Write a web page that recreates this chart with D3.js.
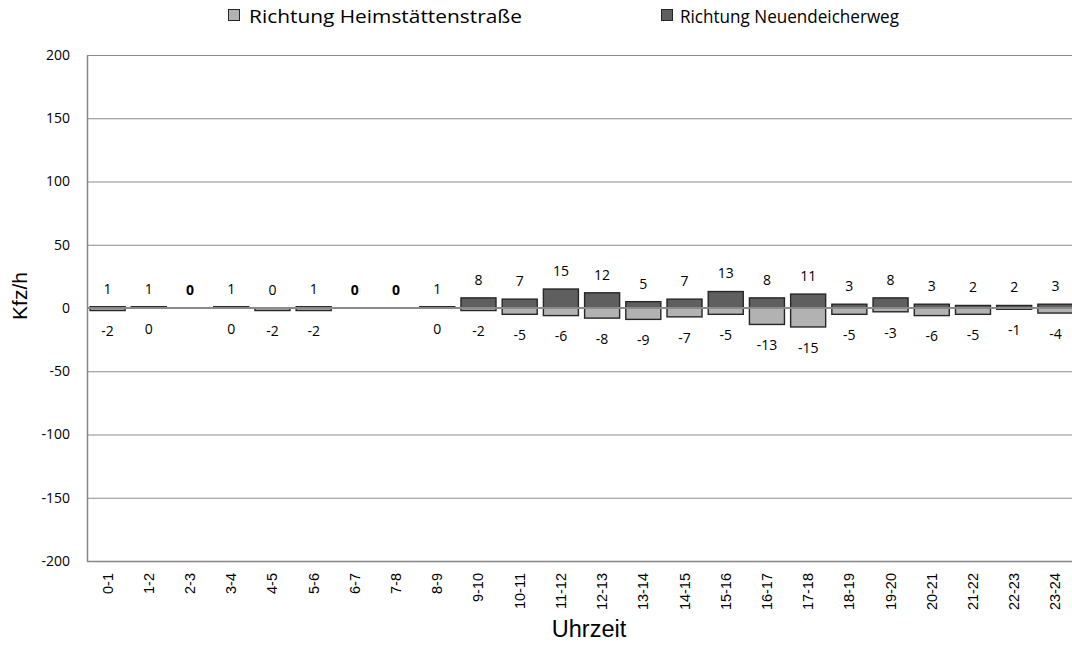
<!DOCTYPE html>
<html><head><meta charset="utf-8">
<script src="https://cdn.jsdelivr.net/npm/d3@7"></script>
<style>body{margin:0;background:#fff}svg{display:block}</style>
</head><body>
<svg id="c" width="1072" height="645"></svg>
<script>
const hours = ["0-1","1-2","2-3","3-4","4-5","5-6","6-7","7-8","8-9","9-10","10-11","11-12","12-13","13-14","14-15","15-16","16-17","17-18","18-19","19-20","20-21","21-22","22-23","23-24"];
const neuendeicherweg = [1,1,0,1,0,1,0,0,1,8,7,15,12,5,7,13,8,11,3,8,3,2,2,3];
const heimstaetten = [-2,0,null,0,-2,-2,null,null,0,-2,-5,-6,-8,-9,-7,-5,-13,-15,-5,-3,-6,-5,-1,-4];
const yTicks = [200,150,100,50,0,-50,-100,-150,-200];
const seriesNames = ["Richtung Heimstättenstraße","Richtung Neuendeicherweg"];

const svg = d3.select("#c");
const m = {l:87, t:55, r:1076, b:561};
const x = d3.scaleBand().domain(hours).range([m.l, m.r]).paddingInner(0.15).paddingOuter(0.075);
const y = d3.scaleLinear().domain([-200,200]).range([m.b, m.t]);
const labelFont = "'Open Sans', sans-serif";
const axisFont = "'Liberation Sans', Arial, sans-serif";

// gridlines
svg.append("g").selectAll("line").data(yTicks).join("line")
  .attr("x1", m.l).attr("x2", 1072).attr("y1", d=>y(d)+0.5).attr("y2", d=>y(d)+0.5)
  .attr("stroke", "#8c8c8c").attr("stroke-width", 1);

// y axis
const ya = svg.append("g").attr("transform", `translate(${m.l},0)`)
  .call(d3.axisLeft(y).tickValues(yTicks).tickSize(0).tickPadding(17).tickFormat(d=>String(d)));
ya.select(".domain").attr("stroke", "#868686").attr("stroke-width", 1.5);
ya.selectAll("text").attr("font-family", labelFont).attr("font-size", 14).attr("fill", "#000");

// bars
const dark = "#5f5f5f", light = "#b2b2b2", edge = "#262626";
const bw = x.bandwidth();
svg.append("g").selectAll("rect").data(hours.map((h,i)=>({h, v:heimstaetten[i]})).filter(d=>d.v!==null))
  .join("rect").attr("x", d=>x(d.h)).attr("width", bw)
  .attr("y", y(0)).attr("height", d=>y(d.v)-y(0))
  .attr("fill", light).attr("stroke", edge).attr("stroke-width", 1.4);
svg.append("g").selectAll("rect").data(hours.map((h,i)=>({h, v:neuendeicherweg[i], empty: heimstaetten[i]===null})).filter(d=>!d.empty))
  .join("rect").attr("x", d=>x(d.h)).attr("width", bw)
  .attr("y", d=>y(d.v)).attr("height", d=>y(0)-y(d.v))
  .attr("fill", dark).attr("stroke", edge).attr("stroke-width", 1.4);

// zero line
svg.append("line").attr("x1", m.l).attr("x2", 1072).attr("y1", y(0)).attr("y2", y(0))
  .attr("stroke", "#8a8a8a").attr("stroke-width", 2);

// bottom axis line
svg.append("line").attr("x1", m.l).attr("x2", 1072).attr("y1", m.b+0.5).attr("y2", m.b+0.5)
  .attr("stroke", "#868686").attr("stroke-width", 1.5);

// data labels
svg.append("g").selectAll("text").data(hours.map((h,i)=>({h, v:neuendeicherweg[i], bold: heimstaetten[i]===null})))
  .join("text").attr("x", d=>x(d.h)+bw/2).attr("y", d=>y(d.v)-18).attr("dy","0.35em")
  .attr("text-anchor","middle").attr("font-family", labelFont).attr("font-size", 14)
  .attr("font-weight", d=>d.bold?"bold":"normal").text(d=>d.v);
svg.append("g").selectAll("text").data(hours.map((h,i)=>({h, v:heimstaetten[i]})).filter(d=>d.v!==null))
  .join("text").attr("x", d=>x(d.h)+bw/2).attr("y", d=>y(d.v)+21).attr("dy","0.35em")
  .attr("text-anchor","middle").attr("font-family", labelFont).attr("font-size", 14).text(d=>d.v);

// x axis labels
svg.append("g").selectAll("text").data(hours).join("text")
  .attr("transform", d=>`translate(${x(d)+bw/2+5},${m.b+12}) rotate(-90)`)
  .attr("text-anchor","end").attr("font-family", axisFont).attr("font-size", 14.5).text(d=>d);

// axis titles
svg.append("text").attr("transform","translate(27,296) rotate(-90)").attr("text-anchor","middle")
  .attr("font-family", axisFont).attr("font-size", 21).text("Kfz/h");
svg.append("text").attr("x", 589).attr("y", 637).attr("text-anchor","middle")
  .attr("font-family", axisFont).attr("font-size", 23.5).text("Uhrzeit");

// legend
const leg = [{n:seriesNames[0], c:light, x:228, tx:21, w:273}, {n:seriesNames[1], c:dark, x:661, tx:19, w:219}];
const lg = svg.append("g").selectAll("g").data(leg).join("g").attr("transform", d=>`translate(${d.x},9)`);
lg.append("rect").attr("x",0.5).attr("y",0.5).attr("width",11).attr("height",11).attr("fill", d=>d.c).attr("stroke", edge).attr("stroke-width",1);
lg.append("text").attr("x", d=>d.tx).attr("y", 13.5).attr("font-family", labelFont).attr("font-size", 18)
  .attr("textLength", d=>d.w).attr("lengthAdjust","spacingAndGlyphs").text(d=>d.n);
</script>
</body></html>
